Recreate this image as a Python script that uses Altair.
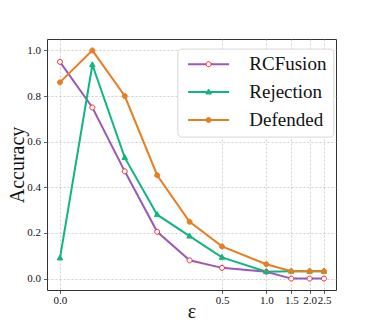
import altair as alt
import pandas as pd

eps = [0.0, 0.1, 0.2, 0.3, 0.4, 0.5, 1.0, 1.5, 2.0, 2.5]
rcfusion = [0.95, 0.75, 0.47, 0.205, 0.08, 0.047, 0.03, 0.0, 0.0, 0.0]
rejection = [0.09, 0.937, 0.53, 0.28, 0.186, 0.093, 0.03, 0.032, 0.032, 0.032]
defended = [0.86, 1.0, 0.80, 0.453, 0.249, 0.141, 0.063, 0.032, 0.032, 0.032]
series = ["RCFusion", "Rejection", "Defended"]
x_ticks = [0.0, 0.5, 1.0, 1.5, 2.0, 2.5]
y_ticks = [0.0, 0.2, 0.4, 0.6, 0.8, 1.0]

markers = [s + " " for s in series]
rows = []
for name, mname, vals in zip(series, markers, [rcfusion, rejection, defended]):
    for e, v in zip(eps, vals):
        rows.append({"eps": e, "acc": v, "series": name, "marker": mname})
df = pd.DataFrame(rows)

FONT = "Liberation Serif"
line_colors = ["#9b59b6", "#10b580", "#e67e22"]
mk_stroke = ["#ff2020", "#10b580", "#e67e22"]
mk_fill = ["#ffffff", "#10b580", "#e67e22"]
circle_path = "M-0.5,0A0.5,0.5,0,1,1,0.5,0A0.5,0.5,0,1,1,-0.5,0Z"
tri_path = "M0,-0.62L0.55,0.38L-0.55,0.38Z"
shapes = [circle_path, tri_path, circle_path]

xscale = alt.Scale(domain=[-0.04, 0.5, 1.0, 1.5, 2.0, 2.5, 2.92],
                   range=[0, 175, 219.3, 244.3, 262.6, 277, 289], nice=False, zero=False)
yscale = alt.Scale(domain=[-0.05, 1.05], nice=False, zero=False)

x = alt.X("eps:Q", scale=xscale, title="ε",
          axis=alt.Axis(values=x_ticks, format=".1f", labelOverlap=False, labelFlush=False,
                        labelBound=False, labelPadding=1, titlePadding=-4))
y = alt.Y("acc:Q", scale=yscale, title="Accuracy",
          axis=alt.Axis(values=y_ticks, format=".1f", titleX=-20, titleY=125.5,
                        titleBaseline="bottom", titleAngle=270))

LX, LY = 130.3, 9.6
common = dict(orient="none", title=None, labelFontSize=19, labelFont=FONT,
              rowPadding=7.9, padding=6.1, legendX=LX, legendY=LY,
              labelOffset=31.2)

lines = alt.Chart(df).mark_line(strokeWidth=2).encode(
    x=x, y=y,
    color=alt.Color("series:N", scale=alt.Scale(domain=series, range=line_colors),
                    legend=alt.Legend(symbolType="M-4.1,0L4.1,0", symbolSize=100,
                                      symbolOffset=15.7, symbolStrokeWidth=2,
                                      fillColor="white", strokeColor="#d8d8d8",
                                      cornerRadius=4, labelColor="#111", **common)),
)

mleg = alt.Legend(symbolSize=100, symbolStrokeWidth=1, symbolOffset=15.7,
                  labelOpacity=0, **common)
points = alt.Chart(df).mark_point(filled=True, size=100, strokeWidth=1, opacity=1).encode(
    x=x, y=y,
    fill=alt.Fill("marker:N", scale=alt.Scale(domain=markers, range=mk_fill), legend=mleg),
    stroke=alt.Stroke("marker:N", scale=alt.Scale(domain=markers, range=mk_stroke), legend=mleg),
    shape=alt.Shape("marker:N", scale=alt.Scale(domain=markers, range=shapes), legend=mleg),
)

chart = alt.layer(lines, points).properties(
    width=289, height=251,
    autosize=alt.AutoSizeParams(type="none"),
    padding={"left": 39, "top": 31, "right": 30, "bottom": 38},
).configure_view(stroke="#333333", strokeWidth=1).configure_axis(
    labelFont=FONT, titleFont=FONT, labelFontSize=11, labelColor="#111",
    titleFontSize=20, titleFontWeight="normal", titleColor="#111",
    domain=False, tickColor="#333", tickSize=3.5, tickWidth=0.8, labelPadding=3,
    grid=True, gridColor="#b0b0b0", gridDash=[2, 2], gridWidth=0.6,
)

chart.save("out.html", embed_options={"renderer": "svg", "actions": False})
